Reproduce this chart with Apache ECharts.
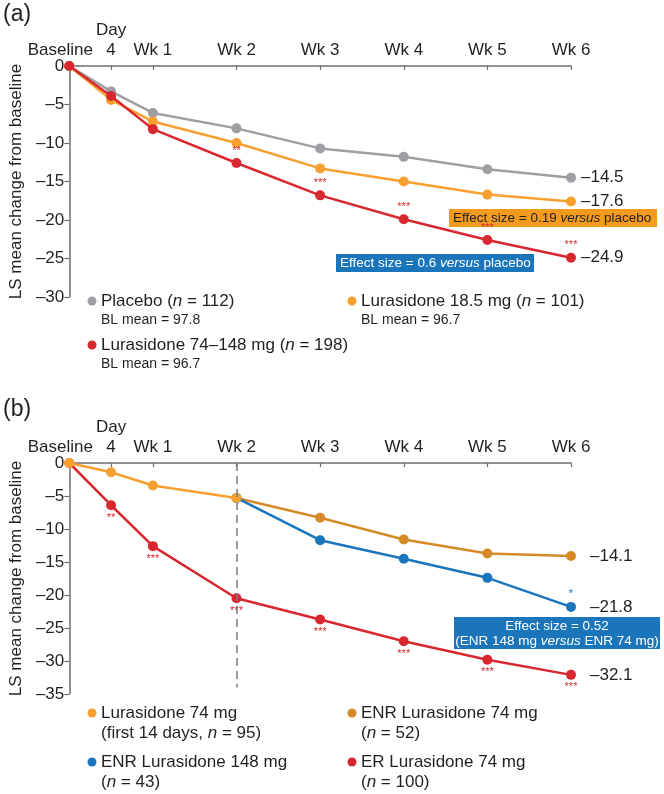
<!DOCTYPE html>
<html>
<head>
<meta charset="utf-8">
<script src="https://cdn.jsdelivr.net/npm/echarts@6/dist/echarts.min.js"></script>
<style>
html, body { margin: 0; padding: 0; background: #fff; }
#chart { width: 664px; height: 794px; }
</style>
</head>
<body>
<div id="chart"></div>
<script>
// x axis runs in half-week slots; Day 4 sits halfway to Wk 1 in the original
SLOTS = ['Baseline', 'Day\n4', 'Wk 1', '', 'Wk 2', '', 'Wk 3', '', 'Wk 4', '', 'Wk 5', '', 'Wk 6'];
VISITS = [0, 1, 2, 4, 6, 8, 10, 12];   // slot of each visit

// panel (a)
PLACEBO = [0, -3.3, -6.1, -8.1, -10.7, -11.8, -13.4, -14.5];
LUR_18 = [0, -4.4, -7.2, -10.0, -13.3, -15.0, -16.7, -17.6];
LUR_74_148 = [0, -3.9, -8.2, -12.6, -16.8, -19.9, -22.6, -24.9];
SIG_A = ['', '', '', '**', '***', '***', '***', '***'];

// panel (b)
LUR_74_FIRST = [0, -1.4, -3.4, -5.3];          // baseline .. Wk 2
ENR_74 = [-5.3, -8.3, -11.6, -13.7, -14.1];     // Wk 2 .. Wk 6
ENR_148 = [-5.3, -11.7, -14.5, -17.4, -21.8];   // Wk 2 .. Wk 6
ER_74 = [0, -6.4, -12.6, -20.5, -23.7, -27.0, -29.8, -32.1];
SIG_ENR148 = ['', '', '', '', '*'];
SIG_ER = ['', '**', '***', '***', '***', '***', '***', '***'];

var TXT = '#231f20';
var AXIS = '#6d6e70';
var FONT = '"Liberation Sans", Arial, sans-serif';
var C_GREY = '#9d9fa2', C_ORANGE = '#f7a030', C_RED = '#d7282f', C_BLUE = '#1b75bb', C_ENR = '#d48a27';

function dash(v) {
	return v === 0 ? '0' : '\u2013' + Math.abs(v).toFixed(Number.isInteger(v) ? 0 : 1);
}

function xAxisOf(i) {
	return {
		type: 'category', gridIndex: i, position: 'top', boundaryGap: false, data: SLOTS,
		axisLine: { show: true, lineStyle: { color: AXIS, width: 1.5 } },
		axisTick: {
			show: true, inside: true, length: 4, lineStyle: { color: AXIS, width: 1.2 },
			interval: function (idx, val) { return idx > 0 && val !== ''; }
		},
		axisLabel: {
			interval: 0, margin: 6, color: TXT, fontSize: 17, fontFamily: FONT, lineHeight: 20,
			formatter: function (v) { return v === 'Baseline' ? '{base|Baseline}' : v; },
			rich: { base: { fontSize: 17, fontFamily: FONT, color: TXT, padding: [0, 18, 0, 0] } }
		},
		splitLine: { show: false }
	};
}

function yAxisOf(i, min) {
	return {
		type: 'value', gridIndex: i, min: min, max: 0, interval: 5,
		name: 'LS mean change from baseline', nameLocation: 'middle', nameGap: 40,
		nameTextStyle: { color: TXT, fontSize: 17, fontFamily: FONT },
		axisLine: { show: true, lineStyle: { color: AXIS, width: 1.5 } },
		axisTick: { show: true, length: 5, lineStyle: { color: AXIS, width: 1.2 } },
		axisLabel: { color: TXT, fontSize: 17, fontFamily: FONT, margin: 5, showMaxLabel: true, formatter: dash },
		splitLine: { show: false }
	};
}

function line(name, color, values, start, panel, sig, sigColor, sigPos, endGap, z) {
	return {
		type: 'line', name: name, xAxisIndex: panel, yAxisIndex: panel, z: z,
		data: values.map(function (v, i) { return [VISITS[i + start], v]; }),
		symbol: 'circle', symbolSize: 10,
		itemStyle: { color: color },
		lineStyle: { color: color, width: 2.5 },
		label: {
			show: !!sig, position: sigPos, distance: 2, color: sigColor, fontSize: 11, fontFamily: FONT,
			formatter: function (p) { return sig ? sig[p.dataIndex] : ''; }
		},
		endLabel: {
			show: endGap > 0, distance: endGap, color: TXT, fontSize: 17, fontFamily: FONT,
			formatter: function (p) { return dash(p.value[1]); }
		}
	};
}

var series = [
	line('Placebo', C_GREY, PLACEBO, 0, 0, null, null, 'top', 10, 2),
	line('Lurasidone 18.5 mg', C_ORANGE, LUR_18, 0, 0, null, null, 'top', 10, 3),
	line('Lurasidone 74–148 mg', C_RED, LUR_74_148, 0, 0, SIG_A, C_RED, 'top', 10, 4),
	line('ENR Lurasidone 74 mg', C_ENR, ENR_74, 3, 1, null, null, 'top', 19, 2),
	line('ENR Lurasidone 148 mg', C_BLUE, ENR_148, 3, 1, SIG_ENR148, C_BLUE, 'top', 19, 2),
	line('ER Lurasidone 74 mg', C_RED, ER_74, 0, 1, SIG_ER, C_RED, 'bottom', 19, 3),
	line('Lurasidone 74 mg', C_ORANGE, LUR_74_FIRST, 0, 1, null, null, 'top', 0, 4)
];
series[5].markLine = {
	silent: true, symbol: 'none', label: { show: false },
	lineStyle: { color: '#7a7b7d', type: [8, 5], width: 1.5 },
	data: [[{ coord: [VISITS[3], 0] }, { coord: [VISITS[3], -34] }]]
};

function legendItem(x, y, color, line1, line2, size2) {
	var rich = {
		t: { fontSize: 17, fontFamily: FONT, fill: TXT },
		i: { fontSize: 17, fontFamily: FONT, fill: TXT, fontStyle: 'italic' },
		s: { fontSize: size2, fontFamily: FONT, fill: TXT },
		si: { fontSize: size2, fontFamily: FONT, fill: TXT, fontStyle: 'italic' }
	};
	return [
		{ type: 'circle', shape: { cx: x, cy: y, r: 4.5 }, style: { fill: color } },
		{ type: 'text', x: x + 9, y: y, style: { text: line1, rich: rich, verticalAlign: 'middle' } },
		{ type: 'text', x: x + 9, y: y + (size2 > 15 ? 20 : 19), style: { text: line2, rich: rich, verticalAlign: 'middle' } }
	];
}

function box(x, y, w, h, fill, text, textFill, center) {
	var rich = {
		t: { fontSize: 13.5, fontFamily: FONT, fill: textFill, lineHeight: 15 },
		i: { fontSize: 13.5, fontFamily: FONT, fill: textFill, fontStyle: 'italic', lineHeight: 15 }
	};
	return [
		{ type: 'rect', shape: { x: x, y: y, width: w, height: h }, style: { fill: fill } },
		{ type: 'text', x: center ? x + w / 2 : x + 4, y: y + h / 2 + 0.5,
			style: { text: text, rich: rich, align: center ? 'center' : 'left', verticalAlign: 'middle' } }
	];
}

var graphics = [].concat(
	[{ type: 'text', x: 3, y: 3, style: { text: '(a)', fontSize: 23, fontFamily: FONT, fill: TXT } },
	 { type: 'text', x: 3, y: 398, style: { text: '(b)', fontSize: 23, fontFamily: FONT, fill: TXT } }],
	legendItem(92, 301, C_GREY, '{t|Placebo (}{i|n}{t| = 112)}', '{s|BL mean = 97.8}', 14),
	legendItem(92, 345, C_RED, '{t|Lurasidone 74–148 mg (}{i|n}{t| = 198)}', '{s|BL mean = 96.7}', 14),
	legendItem(352, 301, C_ORANGE, '{t|Lurasidone 18.5 mg (}{i|n}{t| = 101)}', '{s|BL mean = 96.7}', 14),
	legendItem(92, 713, C_ORANGE, '{t|Lurasidone 74 mg}', '{s|(first 14 days, }{si|n}{s| = 95)}', 17),
	legendItem(92, 762, C_BLUE, '{t|ENR Lurasidone 148 mg}', '{s|(}{si|n}{s| = 43)}', 17),
	legendItem(352, 713, C_ENR, '{t|ENR Lurasidone 74 mg}', '{s|(}{si|n}{s| = 52)}', 17),
	legendItem(352, 762, C_RED, '{t|ER Lurasidone 74 mg}', '{s|(}{si|n}{s| = 100)}', 17),
	box(449, 209, 208, 18, '#f39a1f', '{t|Effect size = 0.19 }{i|versus}{t| placebo}', TXT, false),
	box(336, 254, 198, 18, C_BLUE, '{t|Effect size = 0.6 }{i|versus}{t| placebo}', '#fff', false),
	box(454, 617, 206, 32, C_BLUE, '{t|Effect size = 0.52}\n{t|(ENR 148 mg }{i|versus}{t| ENR 74 mg)}', '#fff', true)
);

var myChart = echarts.init(document.getElementById('chart'));
myChart.setOption({
	animation: false,
	backgroundColor: '#fff',
	textStyle: { fontFamily: FONT },
	grid: [
		{ left: 68, top: 66, width: 503, height: 231 },
		{ left: 68, top: 463, width: 503, height: 231 }
	],
	xAxis: [xAxisOf(0), xAxisOf(1)],
	yAxis: [yAxisOf(0, -30), yAxisOf(1, -35)],
	series: series,
	graphic: graphics
});
</script>
</body>
</html>
